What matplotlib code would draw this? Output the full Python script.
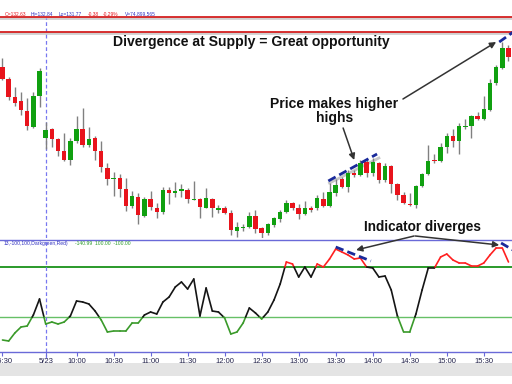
import matplotlib
matplotlib.use('Agg')
import matplotlib.pyplot as plt
import numpy as np
from matplotlib.collections import LineCollection
from matplotlib.patches import Rectangle

plt.rcParams['font.family'] = ['Liberation Sans', 'DejaVu Sans']

# 5 minute bars, index 0 = 15:30 of the previous day
opens = [132.65, 132.53, 132.35, 132.31, 132.21, 132.05, 132.36, 131.94, 132.03, 131.93,
         131.81, 131.72, 131.91, 132.03, 131.87, 131.94, 131.81, 131.64, 131.53, 131.54,
         131.43, 131.26, 131.35, 131.16, 131.33, 131.24, 131.20, 131.42, 131.39, 131.41,
         131.42, 131.32, 131.33, 131.24, 131.33, 131.22, 131.24, 131.19, 131.01, 131.04,
         131.05, 131.16, 131.04, 130.99, 131.07, 131.13, 131.20, 131.29, 131.24, 131.18,
         131.24, 131.24, 131.33, 131.26, 131.39, 131.53, 131.45, 131.59, 131.57, 131.70,
         131.59, 131.69, 131.52, 131.66, 131.48, 131.37, 131.28, 131.27, 131.46, 131.58,
         131.72, 131.71, 131.85, 131.96, 131.91, 132.05, 132.06, 132.16, 132.13, 132.22,
         132.49, 132.64, 132.84]
highs = [132.74, 132.55, 132.45, 132.40, 132.34, 132.40, 132.64, 132.10, 132.04, 131.94,
         131.99, 131.94, 132.16, 132.24, 132.05, 131.96, 131.91, 131.69, 131.60, 131.58,
         131.54, 131.41, 131.39, 131.35, 131.41, 131.29, 131.45, 131.45, 131.50, 131.48,
         131.44, 131.51, 131.34, 131.44, 131.34, 131.27, 131.26, 131.22, 131.10, 131.08,
         131.20, 131.22, 131.05, 131.09, 131.15, 131.22, 131.32, 131.30, 131.28, 131.31,
         131.26, 131.37, 131.40, 131.49, 131.53, 131.55, 131.62, 131.62, 131.72, 131.73,
         131.74, 131.70, 131.69, 131.67, 131.49, 131.40, 131.39, 131.47, 131.59, 131.87,
         131.78, 131.89, 131.99, 132.03, 132.09, 132.13, 132.17, 132.20, 132.36, 132.53,
         132.67, 132.90, 132.87]
lows = [132.52, 132.32, 132.26, 132.17, 132.02, 132.04, 132.25, 131.83, 131.85, 131.76,
        131.71, 131.67, 131.89, 131.85, 131.85, 131.72, 131.60, 131.47, 131.36, 131.35,
        131.21, 131.24, 131.08, 131.15, 131.22, 131.14, 131.18, 131.28, 131.35, 131.35,
        131.29, 131.32, 131.14, 131.24, 131.15, 131.19, 131.18, 130.97, 130.95, 131.01,
        131.04, 130.99, 130.93, 130.97, 131.05, 131.10, 131.19, 131.22, 131.13, 131.17,
        131.20, 131.22, 131.25, 131.25, 131.36, 131.44, 131.40, 131.55, 131.56, 131.55,
        131.56, 131.49, 131.50, 131.39, 131.32, 131.28, 131.26, 131.24, 131.45, 131.57,
        131.69, 131.70, 131.79, 131.85, 131.78, 132.03, 131.94, 132.12, 132.12, 132.21,
        132.47, 132.63, 132.71]
closes = [132.53, 132.35, 132.29, 132.22, 132.06, 132.36, 132.61, 132.02, 131.93, 131.81,
          131.72, 131.91, 132.03, 131.87, 131.93, 131.81, 131.65, 131.53, 131.54, 131.43,
          131.26, 131.36, 131.17, 131.33, 131.25, 131.20, 131.42, 131.39, 131.41, 131.43,
          131.33, 131.33, 131.25, 131.34, 131.24, 131.24, 131.19, 131.02, 131.05, 131.05,
          131.16, 131.03, 130.99, 131.08, 131.14, 131.20, 131.29, 131.24, 131.18, 131.24,
          131.22, 131.34, 131.26, 131.40, 131.47, 131.45, 131.59, 131.57, 131.69, 131.59,
          131.70, 131.52, 131.66, 131.48, 131.37, 131.29, 131.27, 131.46, 131.58, 131.71,
          131.71, 131.85, 131.96, 131.91, 132.06, 132.06, 132.16, 132.13, 132.23, 132.49,
          132.65, 132.84, 132.75]

cci = [-192, -196, -164, -140, -136, -92, -28, -128, -120, -128,
       -120, -96, -36, -40, -48, -76, -112, -160, -156, -156,
       -156, -124, -124, -92, -80, -88, -40, -20, 20, 40,
       12, 52, -96, 16, -76, -80, -104, -168, -160, -124,
       -64, -84, -108, -80, -32, 32, 120, 112, 60, 100,
       60, 112, 100, 132, 172, 160, 148, 132, 136, 100,
       96, 60, 64, 8, -96, -160, -160, -88, 8, 96,
       96, 140, 152, 128, 116, 116, 104, 104, 116, 148,
       176, 176, 120]

tick_pos = [0, 7, 12, 18, 24, 30, 36, 42, 48, 54, 60, 66, 72, 78]
tick_labels = ['15:30', '5/23', '10:00', '10:30', '11:00', '11:30', '12:00', '12:30',
               '13:00', '13:30', '14:00', '14:30', '15:00', '15:30']

supply_levels = [133.15, 133.00]
day_start = 7
cci_hi, cci_lo = 100, -100

# divergence trend lines (bar index, value)
price_trend_x = [52.8, 60.7]
price_trend_y = [131.51, 131.78]
price_trend2_x = [80.5, 83.0]
price_trend2_y = [132.90, 133.01]
cci_trend_x = [54.0, 59.7]
cci_trend_y = [180, 124]
cci_trend2_x = [80.8, 83.0]
cci_trend2_y = [196, 164]

RED = '#e8141c'
GREEN = '#10a010'
BLUE = '#3030c0'

fig = plt.figure(figsize=(5.12, 3.84), dpi=100)
fig.patch.set_facecolor('white')

ax2 = fig.add_axes([0, 1 - 352 / 384, 1, 112 / 384])
ax = fig.add_axes([0, 1 - 238 / 384, 1, 238 / 384])
ax.set_zorder(3)
ax2.set_zorder(1)
xlim = (-0.405, 82.57)

# price panel
idx = np.arange(len(opens))
o = np.array(opens)
c = np.array(closes)
up = c >= o
ax.vlines(idx, lows, highs, color='#808080', lw=1, zorder=2)
body_h = np.maximum(np.abs(c - o), 0.012)
ax.bar(idx, body_h, bottom=np.minimum(o, c), width=0.72,
       color=np.where(up, GREEN, RED), edgecolor='none', zorder=3)

for lvl in supply_levels:
    ax.axhline(lvl - 0.012, color='#d0d0d0', lw=2, zorder=1)
    ax.axhline(lvl, color='#d42020', lw=1.3, zorder=4)

ax.vlines(day_start, 130.94, supply_levels[0] - 0.01, color='#7878f0', lw=0.9,
          linestyles=(0, (3, 2)), zorder=1)

ax.plot([53, 61], [highs[53], highs[60]], color='#c8c8c8', lw=2, zorder=1)
ax.plot(price_trend_x, price_trend_y, color='#1a2a9a', lw=2, ls=(0, (3, 1.5)), zorder=5)
ax.plot(price_trend2_x, price_trend2_y, color='#1a2a9a', lw=2, ls=(0, (3, 1.5)), zorder=5)

ax.set_xlim(*xlim)
ax.set_ylim(130.94, 133.32)
ax.axis('off')

ax.text(40.4, 132.90, 'Divergence at Supply = Great opportunity', ha='center', va='center',
        fontsize=10.1, fontweight='bold', color='#111111')
ax.text(53.8, 132.21, 'Price makes higher\nhighs', ha='center', va='center',
        fontsize=10.1, fontweight='bold', color='#111111', linespacing=1.05)
ax.text(68.0, 131.05, 'Indicator diverges', ha='center', va='center',
        fontsize=9.8, fontweight='bold', color='#111111')

arrow = dict(arrowstyle='-|>', color='#333333', lw=1.1, mutation_scale=9, shrinkA=0, shrinkB=0)
ax.annotate('', xy=(80.0, 132.90), xytext=(64.9, 132.33), arrowprops=arrow)
ax.annotate('', xy=(57.0, 131.72), xytext=(55.2, 132.04), arrowprops=arrow)
ax.annotate('', xy=(57.3, 168), xycoords=ax2.transData, xytext=(66.7, 130.96),
            textcoords=ax.transData, arrowprops=arrow, annotation_clip=False)
ax.annotate('', xy=(80.5, 188), xycoords=ax2.transData, xytext=(66.9, 130.96),
            textcoords=ax.transData, arrowprops=arrow, annotation_clip=False)

# header text
header = [('O=132.63', RED, 5), ('Hi=132.84', BLUE, 31), ('Lo=131.77', BLUE, 59),
          ('-0.38', RED, 88), ('-0.29%', RED, 103), ('V=74,899,565', BLUE, 125)]
for txt, col, px in header:
    fig.text(px / 512, 1 - 14 / 384, txt, fontsize=3.5, color=col, va='center')

# indicator panel
segs, cols = [], []
for i in range(len(cci) - 1):
    v0, v1 = cci[i], cci[i + 1]
    cuts = [0.0, 1.0]
    for th in (cci_hi, cci_lo):
        if (v0 - th) * (v1 - th) < 0:
            cuts.append((th - v0) / (v1 - v0))
    cuts.sort()
    for a, b in zip(cuts[:-1], cuts[1:]):
        mid = v0 + (a + b) / 2 * (v1 - v0)
        segs.append([(i + a, v0 + a * (v1 - v0)), (i + b, v0 + b * (v1 - v0))])
        if mid > cci_hi:
            cols.append('#ff2020')
        elif mid < cci_lo:
            cols.append('#3a9a2a')
        else:
            cols.append('#151515')
ax2.add_collection(LineCollection(segs, colors=cols, linewidths=1.2, capstyle='round', zorder=3))

ax2.axhline(cci_hi, color='#2a9a2a', lw=1.4, zorder=1)
ax2.axhline(cci_lo, color='#66c066', lw=1.0, zorder=1)
ax2.vlines(day_start, -264, 208, color='#7878f0', lw=0.9, linestyles=(0, (3, 2)),
           clip_on=False, zorder=1)
ax2.plot(cci_trend_x, cci_trend_y, color='#1a2a9a', lw=2, ls=(0, (3, 1.5)), zorder=5)
ax2.plot(cci_trend2_x, cci_trend2_y, color='#1a2a9a', lw=2, ls=(0, (3, 1.5)), zorder=5)

ax2.set_xlim(*xlim)
ax2.set_ylim(-240, 208)
for s in ['left', 'right']:
    ax2.spines[s].set_visible(False)
for s in ['top', 'bottom']:
    ax2.spines[s].set_color('#6a6ad8')
    ax2.spines[s].set_linewidth(1.0)
ax2.set_yticks([])
ax2.set_xticks(tick_pos)
ax2.set_xticklabels(tick_labels)
ax2.tick_params(axis='x', length=3, width=0.8, color='#6a6ad8', pad=1.5,
                labelsize=5.5, labelcolor='#22224a')
ax2.set_facecolor('white')

ax2.text(0.2, 194, '13,-100,100,Darkgreen,Red)', fontsize=3.6, color=BLUE, va='center')
ax2.text(11.8, 194, '-140.99  100.00  -100.00', fontsize=3.6, color='#2a9a2a', va='center')

fig.patches.append(Rectangle((0, 1 - 376 / 384), 1, 13 / 384, transform=fig.transFigure,
                             facecolor='#e4e4e4', edgecolor='none', zorder=0))

plt.savefig('out.png', dpi=100)
